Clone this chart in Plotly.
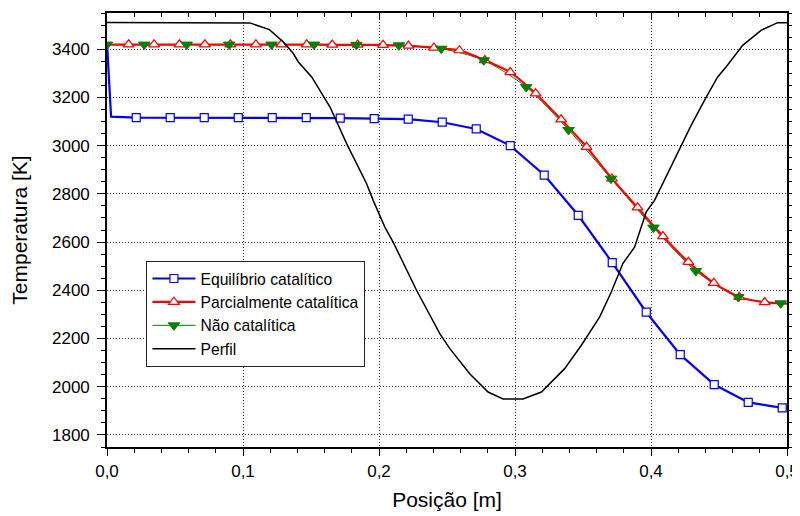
import plotly.graph_objects as go

# ---------------- data ----------------
# Equilíbrio catalítico (blue) - line points
blue_x = [0.0, 0.003, 0.0215, 0.0465, 0.0715, 0.0965, 0.1215, 0.1465, 0.1715, 0.1965,
          0.2215, 0.2465, 0.2715, 0.2965, 0.3215, 0.3465, 0.3715, 0.3965, 0.4215,
          0.4465, 0.4715, 0.4965, 0.5]
blue_T = [3425, 3120, 3116, 3116, 3116, 3116, 3116, 3116, 3114, 3112,
          3110, 3097, 3069, 3000, 2878, 2711, 2515, 2309, 2133,
          2009, 1935, 1912, 1911]
# symbol positions (every n-th point in the original plot)
blue_mx = blue_x[2:-1]
blue_mT = blue_T[2:-1]

# Parcialmente catalítica (red)
red_x = [0.0, 0.0159, 0.0346, 0.0533, 0.0720, 0.0907, 0.1095, 0.1282, 0.1469, 0.1656,
         0.1843, 0.2030, 0.2217, 0.2404, 0.2591, 0.2778, 0.2965, 0.3152, 0.3339,
         0.3526, 0.3713, 0.3901, 0.4088, 0.4275, 0.4462, 0.4649, 0.4836, 0.5]
red_T = [3419, 3419, 3419, 3419, 3419, 3419, 3419, 3419, 3419, 3418,
         3418, 3417, 3414, 3406, 3395, 3354, 3304, 3216, 3108,
         2994, 2863, 2743, 2624, 2517, 2430, 2372, 2350, 2345]
red_mx = red_x[1:-1]
red_mT = red_T[1:-1]

# Não catalítica (green)
green_x = [0.0, 0.0274, 0.0586, 0.0898, 0.1210, 0.1522, 0.1834, 0.2146, 0.2458,
           0.2770, 0.3082, 0.3394, 0.3706, 0.4018, 0.4330, 0.4642, 0.4954, 0.5]
green_T = [3419, 3419, 3419, 3419, 3419, 3419, 3418, 3416, 3402,
           3354, 3243, 3065, 2863, 2660, 2480, 2372, 2346, 2345]
green_mx = green_x[:-1]
green_mT = green_T[:-1]

# Perfil (black)
perfil_x = [0.0, 0.105, 0.1194, 0.1297, 0.137, 0.1407, 0.1505, 0.1640, 0.1762, 0.1872,
            0.1909, 0.1957, 0.2043, 0.2104, 0.2276, 0.2447, 0.2521, 0.2667, 0.2802,
            0.2912, 0.3059, 0.3194, 0.3328, 0.3365, 0.3488, 0.3622, 0.3708, 0.3793,
            0.3879, 0.3965, 0.4026, 0.4160, 0.4295, 0.4393, 0.4490, 0.4552, 0.4674,
            0.4809, 0.4931, 0.5]
perfil_T = [3511, 3509, 3481, 3430, 3382, 3347, 3285, 3160, 3008, 2884,
            2842, 2773, 2662, 2600, 2400, 2220, 2158, 2054, 1978,
            1949, 1949, 1978, 2054, 2075, 2172, 2289, 2393, 2511,
            2579, 2725, 2773, 2925, 3084, 3188, 3285, 3326, 3416,
            3478, 3510, 3510]

series_names = ["Equilíbrio catalítico", "Parcialmente catalítica", "Não catalítica", "Perfil"]

x_tick_vals = [0.0, 0.1, 0.2, 0.3, 0.4, 0.5]
x_tick_text = ["0,0", "0,1", "0,2", "0,3", "0,4", "0,5"]
y_tick_vals = [1800, 2000, 2200, 2400, 2600, 2800, 3000, 3200, 3400]
y_tick_text = [str(v) for v in y_tick_vals]

x_title = "Posição [m]"
y_title = "Temperatura [K]"

# ---------------- styles ----------------
BLUE = "#0000FF"
RED = "#FF0000"
GREEN = "#008000"
BLACK = "#000000"
FONT = "Liberation Sans, Arial, sans-serif"

blue_marker = dict(symbol="square", size=8, color="white", line=dict(color=BLUE, width=1.2))
red_marker = dict(symbol="triangle-up", size=9.5, color="white", line=dict(color=RED, width=1.2))
green_marker = dict(symbol="triangle-down", size=10, color=GREEN, line=dict(color=GREEN, width=1))

fig = go.Figure()

# lines first
fig.add_trace(go.Scatter(x=green_x, y=green_T, mode="lines",
                         line=dict(color=GREEN, width=1, shape="spline", smoothing=0.8),
                         showlegend=False, hoverinfo="skip"))
fig.add_trace(go.Scatter(x=blue_x, y=blue_T, mode="lines", line=dict(color=BLUE, width=2.2),
                         showlegend=False, hoverinfo="skip"))
fig.add_trace(go.Scatter(x=red_x, y=red_T, mode="lines",
                         line=dict(color=RED, width=2.2, shape="spline", smoothing=0.6),
                         showlegend=False, hoverinfo="skip"))
# symbols
fig.add_trace(go.Scatter(x=blue_mx, y=blue_mT, mode="markers", marker=blue_marker,
                         showlegend=False))
fig.add_trace(go.Scatter(x=red_mx, y=red_mT, mode="markers", marker=red_marker,
                         showlegend=False))
fig.add_trace(go.Scatter(x=green_mx, y=green_mT, mode="markers", marker=green_marker,
                         showlegend=False))
fig.add_trace(go.Scatter(x=perfil_x, y=perfil_T, mode="lines", line=dict(color=BLACK, width=1.5),
                         showlegend=False))

# legend entries
fig.add_trace(go.Scatter(x=[None], y=[None], mode="lines+markers", name=series_names[0],
                         line=dict(color=BLUE, width=2.2), marker=blue_marker))
fig.add_trace(go.Scatter(x=[None], y=[None], mode="lines+markers", name=series_names[1],
                         line=dict(color=RED, width=2.2), marker=red_marker))
fig.add_trace(go.Scatter(x=[None], y=[None], mode="lines+markers", name=series_names[2],
                         line=dict(color=GREEN, width=1), marker=green_marker))
fig.add_trace(go.Scatter(x=[None], y=[None], mode="lines", name=series_names[3],
                         line=dict(color=BLACK, width=1.5)))

# helper trace for the top axis
fig.add_trace(go.Scatter(x=[None], y=[None], xaxis="x2", showlegend=False, hoverinfo="skip"))

grid_style = dict(showgrid=True, gridcolor="#333333", gridwidth=1, griddash="1px,2px")

# the page body has an 8px margin, so the figure is 792x508 and the margins are
# shifted to keep the plot area at the reference location
fig.update_layout(
    width=792, height=508,
    margin=dict(l=99, r=13, t=5, b=69, autoexpand=False),
    paper_bgcolor="white", plot_bgcolor="white",
    font=dict(family=FONT, color="black"),
    showlegend=True,
    legend=dict(x=0.058, y=0.429, xanchor="left", yanchor="top",
                bgcolor="white", bordercolor="#222222", borderwidth=1,
                font=dict(family=FONT, size=15.7, color="black"),
                tracegroupgap=0, itemwidth=43),
    xaxis=dict(range=[0, 0.5], tickvals=x_tick_vals, ticktext=x_tick_text,
               ticks="outside", ticklen=7, tickwidth=1.3, tickcolor="black",
               showline=True, linecolor="black", linewidth=1.6, mirror=True,
               zeroline=False, ticklabelstandoff=1, automargin=False,
               tickfont=dict(family=FONT, size=17, color="black"),
               minor=dict(dtick=0.02, ticks="outside", ticklen=4, tickwidth=1.3,
                          tickcolor="black", showgrid=False),
               title=dict(text=x_title, font=dict(family=FONT, size=21, color="black"), standoff=12),
               **grid_style),
    xaxis2=dict(range=[0, 0.5], overlaying="x", side="top", tickvals=x_tick_vals,
                showticklabels=False, ticks="inside", ticklen=6, tickwidth=1.3,
                tickcolor="black", showgrid=False, zeroline=False, showline=False,
                automargin=False,
                minor=dict(dtick=0.02, ticks="inside", ticklen=4, tickwidth=1.3,
                           tickcolor="black", showgrid=False)),
    yaxis=dict(range=[1750, 3550], tickvals=y_tick_vals, ticktext=y_tick_text,
               ticks="outside", ticklen=8, tickwidth=1.3, tickcolor="black",
               showline=True, linecolor="black", linewidth=1.6, mirror="ticks",
               zeroline=False, ticklabelstandoff=4, automargin=False,
               tickfont=dict(family=FONT, size=17, color="black"),
               minor=dict(dtick=50, tick0=1750, ticks="outside", ticklen=4, tickwidth=1.3,
                          tickcolor="black", showgrid=False),
               title=dict(text=y_title, font=dict(family=FONT, size=21, color="black"), standoff=22),
               **grid_style),
)

fig.write_html("out.html")
